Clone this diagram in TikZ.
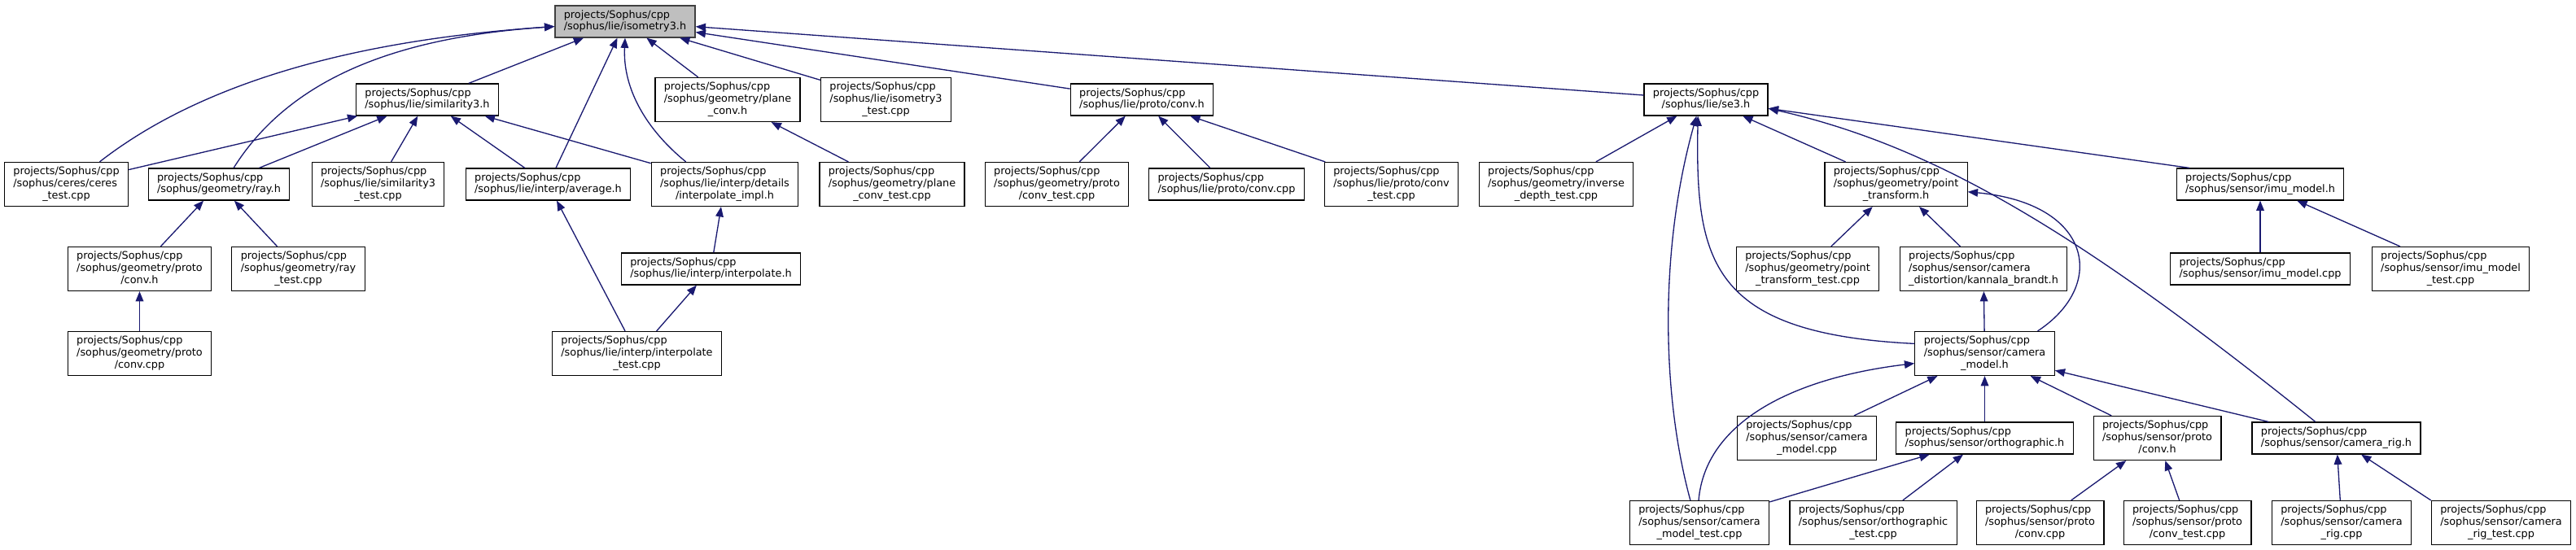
\documentclass[tikz,border=0pt]{standalone}
\usepackage{fontspec}
\setmainfont{DejaVu Sans}
\usepackage{xcolor}
\definecolor{dgedge}{RGB}{25,25,112}
\definecolor{dgroot}{RGB}{191,191,191}
\definecolor{dgrootline}{RGB}{64,64,64}
\usetikzlibrary{arrows.meta}
% label: leading lines left, last line centred
\newcommand{\flbl}[2]{\begin{tabular}{@{}l@{}}#1\\\multicolumn{1}{@{}c@{}}{#2}\end{tabular}}
\tikzset{
  filebox/.style={draw=black, line width=0.7pt, fill=white, font=\fontsize{7.3}{8.5}\selectfont, inner xsep=6.2pt, inner ysep=2.6pt},
  rootbox/.style={filebox, draw=dgrootline, fill=dgroot},
  dep/.style={draw=dgedge, line width=0.75pt, -{Triangle[length=7pt, width=5.5pt]}}
}

\begin{document}
\begin{tikzpicture}
  \useasboundingbox (0,0) rectangle (63.3,-13.52);

  % Row 1
  \node[rootbox] (iso3) at (15.36,-0.53) {\flbl{projects/Sophus/cpp}{/sophus/lie/isometry3.h}};

  % Row 2
  \node[filebox] (sim3) at (10.50,-2.45) {\flbl{projects/Sophus/cpp}{/sophus/lie/similarity3.h}};
  \node[filebox] (planeconv) at (17.88,-2.45) {\flbl{projects/Sophus/cpp\\/sophus/geometry/plane}{\_conv.h}};
  \node[filebox] (iso3test) at (21.77,-2.45) {\flbl{projects/Sophus/cpp\\/sophus/lie/isometry3}{\_test.cpp}};
  \node[filebox] (lieconvh) at (28.06,-2.45) {\flbl{projects/Sophus/cpp}{/sophus/lie/proto/conv.h}};
  \node[filebox] (se3) at (41.92,-2.45) {\flbl{projects/Sophus/cpp}{/sophus/lie/se3.h}};

  % Row 3
  \node[filebox] (cerestest) at (1.63,-4.53) {\flbl{projects/Sophus/cpp\\/sophus/ceres/ceres}{\_test.cpp}};
  \node[filebox] (rayh) at (5.38,-4.53) {\flbl{projects/Sophus/cpp}{/sophus/geometry/ray.h}};
  \node[filebox] (sim3test) at (9.29,-4.53) {\flbl{projects/Sophus/cpp\\/sophus/lie/similarity3}{\_test.cpp}};
  \node[filebox] (average) at (13.47,-4.53) {\flbl{projects/Sophus/cpp}{/sophus/lie/interp/average.h}};
  \node[filebox] (interpimpl) at (17.81,-4.53) {\flbl{projects/Sophus/cpp\\/sophus/lie/interp/details}{/interpolate\_impl.h}};
  \node[filebox] (planeconvtest) at (21.92,-4.53) {\flbl{projects/Sophus/cpp\\/sophus/geometry/plane}{\_conv\_test.cpp}};
  \node[filebox] (geoconvtest) at (25.97,-4.53) {\flbl{projects/Sophus/cpp\\/sophus/geometry/proto}{/conv\_test.cpp}};
  \node[filebox] (lieconvcpp) at (30.14,-4.53) {\flbl{projects/Sophus/cpp}{/sophus/lie/proto/conv.cpp}};
  \node[filebox] (lieconvtest) at (34.19,-4.53) {\flbl{projects/Sophus/cpp\\/sophus/lie/proto/conv}{\_test.cpp}};
  \node[filebox] (invdepth) at (38.24,-4.53) {\flbl{projects/Sophus/cpp\\/sophus/geometry/inverse}{\_depth\_test.cpp}};
  \node[filebox] (pointtf) at (46.59,-4.53) {\flbl{projects/Sophus/cpp\\/sophus/geometry/point}{\_transform.h}};
  \node[filebox] (imuh) at (55.54,-4.53) {\flbl{projects/Sophus/cpp}{/sophus/sensor/imu\_model.h}};

  % Row 4
  \node[filebox] (geoconvh) at (3.43,-6.61) {\flbl{projects/Sophus/cpp\\/sophus/geometry/proto}{/conv.h}};
  \node[filebox] (raytest) at (7.33,-6.61) {\flbl{projects/Sophus/cpp\\/sophus/geometry/ray}{\_test.cpp}};
  \node[filebox] (interph) at (17.47,-6.61) {\flbl{projects/Sophus/cpp}{/sophus/lie/interp/interpolate.h}};
  \node[filebox] (pointtftest) at (44.42,-6.61) {\flbl{projects/Sophus/cpp\\/sophus/geometry/point}{\_transform\_test.cpp}};
  \node[filebox] (kannala) at (48.74,-6.61) {\flbl{projects/Sophus/cpp\\/sophus/sensor/camera}{\_distortion/kannala\_brandt.h}};
  \node[filebox] (imucpp) at (55.54,-6.61) {\flbl{projects/Sophus/cpp}{/sophus/sensor/imu\_model.cpp}};
  \node[filebox] (imutest) at (60.22,-6.61) {\flbl{projects/Sophus/cpp\\/sophus/sensor/imu\_model}{\_test.cpp}};

  % Row 5
  \node[filebox] (geoconvcpp) at (3.43,-8.69) {\flbl{projects/Sophus/cpp\\/sophus/geometry/proto}{/conv.cpp}};
  \node[filebox] (interptest) at (15.65,-8.69) {\flbl{projects/Sophus/cpp\\/sophus/lie/interp/interpolate}{\_test.cpp}};
  \node[filebox] (cammodelh) at (48.77,-8.69) {\flbl{projects/Sophus/cpp\\/sophus/sensor/camera}{\_model.h}};

  % Row 6
  \node[filebox] (cammodelcpp) at (44.40,-10.77) {\flbl{projects/Sophus/cpp\\/sophus/sensor/camera}{\_model.cpp}};
  \node[filebox] (ortho) at (48.77,-10.77) {\flbl{projects/Sophus/cpp}{/sophus/sensor/orthographic.h}};
  \node[filebox] (sensconvh) at (53.01,-10.77) {\flbl{projects/Sophus/cpp\\/sophus/sensor/proto}{/conv.h}};
  \node[filebox] (camrig) at (57.41,-10.77) {\flbl{projects/Sophus/cpp}{/sophus/sensor/camera\_rig.h}};

  % Row 7
  \node[filebox] (cammodeltest) at (41.76,-12.85) {\flbl{projects/Sophus/cpp\\/sophus/sensor/camera}{\_model\_test.cpp}};
  \node[filebox] (orthotest) at (46.03,-12.85) {\flbl{projects/Sophus/cpp\\/sophus/sensor/orthographic}{\_test.cpp}};
  \node[filebox] (sensconvcpp) at (50.13,-12.85) {\flbl{projects/Sophus/cpp\\/sophus/sensor/proto}{/conv.cpp}};
  \node[filebox] (sensconvtest) at (53.75,-12.85) {\flbl{projects/Sophus/cpp\\/sophus/sensor/proto}{/conv\_test.cpp}};
  \node[filebox] (camrigcpp) at (57.54,-12.85) {\flbl{projects/Sophus/cpp\\/sophus/sensor/camera}{\_rig.cpp}};
  \node[filebox] (camrigtest) at (61.46,-12.85) {\flbl{projects/Sophus/cpp\\/sophus/sensor/camera}{\_rig\_test.cpp}};

  % Includes of isometry3.h
  \draw[dep] (cerestest.34) .. controls (5.5,-1.6) and (10,-0.9) .. (iso3.184);
  \draw[dep] (rayh.48) .. controls (7.2,-1.8) and (10,-0.9) .. (iso3.184);
  \draw[dep] (sim3) -- (iso3);
  \draw[dep] (average) -- (iso3);
  \draw[dep] (interpimpl.150) .. controls (15.9,-3.2) and (15.3,-2.2) .. (iso3.south);
  \draw[dep] (planeconv) -- (iso3);
  \draw[dep] (iso3test) -- (iso3);
  \draw[dep] (lieconvh) -- (iso3);
  \draw[dep] (se3) -- (iso3);

  % Includes of similarity3.h and the left branch
  \draw[dep] (cerestest) -- (sim3);
  \draw[dep] (rayh) -- (sim3);
  \draw[dep] (sim3test) -- (sim3);
  \draw[dep] (average) -- (sim3);
  \draw[dep] (interpimpl) -- (sim3);
  \draw[dep] (geoconvh) -- (rayh);
  \draw[dep] (raytest) -- (rayh);
  \draw[dep] (geoconvcpp) -- (geoconvh);
  \draw[dep] (interptest) -- (average);
  \draw[dep] (interph) -- (interpimpl);
  \draw[dep] (interptest) -- (interph);
  \draw[dep] (planeconvtest) -- (planeconv);
  \draw[dep] (geoconvtest) -- (lieconvh);
  \draw[dep] (lieconvcpp) -- (lieconvh);
  \draw[dep] (lieconvtest) -- (lieconvh);

  % Includes of se3.h and the sensor branch
  \draw[dep] (invdepth) -- (se3);
  \draw[dep] (pointtf) -- (se3);
  \draw[dep] (imuh.167) -- (se3.352);
  \draw[dep] (cammodelh.172) .. controls (42.0,-8.2) and (41.66,-6.4) .. (se3.244);
  \draw[dep] (cammodeltest.112) .. controls (40.8,-9.6) and (40.8,-6.0) .. (se3.240);
  \draw[dep] (camrig.142) .. controls (51.2,-5.8) and (47.6,-3.6) .. (se3.352);
  \draw[dep] (pointtftest) -- (pointtf);
  \draw[dep] (kannala) -- (pointtf);
  \draw[dep] (cammodelh.23) .. controls (51.8,-7.0) and (51.4,-5.0) .. (pointtf.354);
  \draw[dep] (imucpp) -- (imuh);
  \draw[dep] (imutest) -- (imuh);
  \draw[dep] (cammodelh) -- (kannala);
  \draw[dep] (cammodelcpp) -- (cammodelh);
  \draw[dep] (ortho) -- (cammodelh);
  \draw[dep] (sensconvh) -- (cammodelh);
  \draw[dep] (camrig) -- (cammodelh);
  \draw[dep] (cammodeltest.92) .. controls (41.9,-10.4) and (44.0,-9.3) .. (cammodelh.188);
  \draw[dep] (cammodeltest) -- (ortho);
  \draw[dep] (orthotest) -- (ortho);
  \draw[dep] (sensconvcpp) -- (sensconvh);
  \draw[dep] (sensconvtest) -- (sensconvh);
  \draw[dep] (camrigcpp) -- (camrig);
  \draw[dep] (camrigtest.north west) -- (camrig);
\end{tikzpicture}
\end{document}
